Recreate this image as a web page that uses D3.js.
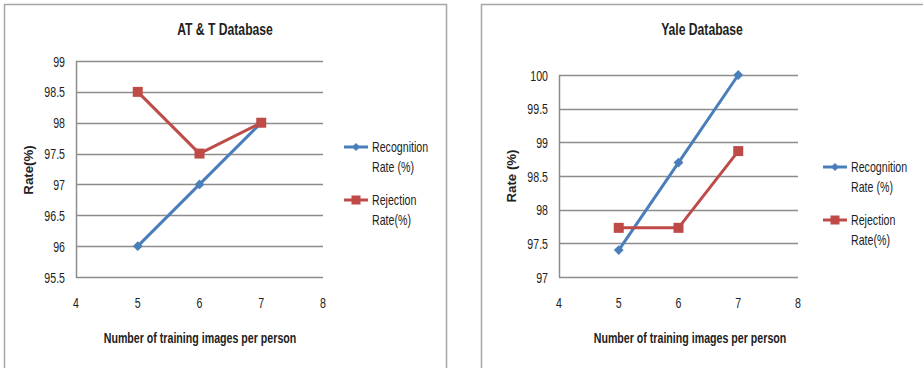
<!DOCTYPE html>
<html>
<head>
<meta charset="utf-8">
<script src="https://cdn.jsdelivr.net/npm/d3@7"></script>
<style>
  body { margin: 0; background: #fff; }
  text { font-family: "Liberation Sans", Arial, sans-serif; fill: #222; }
</style>
</head>
<body>
<div id="chart"></div>
<script>
// ---------- data ----------
const xValues = [5, 6, 7];
const xTicks = [4, 5, 6, 7, 8];

const attRecognition = [96, 97, 98];
const attRejection = [98.5, 97.5, 98];
const attTicks = [95.5, 96, 96.5, 97, 97.5, 98, 98.5, 99];

const yaleRecognition = [97.4, 98.7, 100];
const yaleRejection = [97.73, 97.73, 98.87];
const yaleTicks = [97, 97.5, 98, 98.5, 99, 99.5, 100];

const seriesNames = [["Recognition", "Rate (%)"], ["Rejection", "Rate(%)"]];

// ---------- layout ----------
const blue = "#4a7ebb", red = "#be4b48";
const squeeze = 0.76; // the original text is narrow (Calibri-like)

const svg = d3.select("#chart").append("svg")
  .attr("width", 923).attr("height", 368);

// narrow text: place at (x,y), squeeze horizontally, optional rotation
function label(parent, x, y, str, size, opts = {}) {
  const rot = opts.rotate ? ` rotate(${opts.rotate})` : "";
  const sx = opts.sx || squeeze;
  return parent.append("text")
    .attr("transform", `translate(${x},${y})${rot} scale(${sx},1)`)
    .attr("text-anchor", opts.anchor || "start")
    .attr("font-size", size)
    .attr("font-weight", opts.bold ? "bold" : null)
    .text(str);
}

// outer frames
svg.append("path").attr("d", "M4.5,369 V4.5 H446.5 V369")
  .attr("fill", "none").attr("stroke", "#a6a6a6").attr("stroke-width", 1.5);
svg.append("path").attr("d", "M481.5,369 V4.5 H924")
  .attr("fill", "none").attr("stroke", "#a6a6a6").attr("stroke-width", 1.5);

function drawChart(cfg) {
  const g = svg.append("g");
  const x = d3.scaleLinear().domain([4, 8]).range([cfg.left, cfg.right]);
  const y = d3.scaleLinear().domain(cfg.yDomain).range([cfg.bottom, cfg.top]);

  // gridlines
  g.selectAll(".grid").data(cfg.yTicks).join("line")
    .attr("x1", cfg.left).attr("x2", cfg.right)
    .attr("y1", d => Math.round(y(d)) + 0.5).attr("y2", d => Math.round(y(d)) + 0.5)
    .attr("stroke", "#8c8c8c").attr("stroke-width", 1.5);

  // vertical axis line
  g.append("line")
    .attr("x1", cfg.left + 0.5).attr("x2", cfg.left + 0.5)
    .attr("y1", cfg.top).attr("y2", cfg.bottom + 1)
    .attr("stroke", "#8c8c8c").attr("stroke-width", 1.5);

  // y labels
  cfg.yTicks.forEach(d => label(g, cfg.left - 11, y(d) + 5.5, d, 14, {anchor: "end"}));

  // x labels
  xTicks.forEach(d => label(g, x(d), 308, d, 14, {anchor: "middle"}));

  // titles
  label(g, cfg.titleX, 35, cfg.title, 16, {anchor: "middle", bold: true});
  label(g, cfg.xTitleX, 343, "Number of training images per person", 14, {anchor: "middle", bold: true});
  label(g, cfg.yTitleX, cfg.yTitleY, cfg.yTitle, 13, {anchor: "middle", bold: true, rotate: -90, sx: 1.02});

  const line = d3.line().x((d, i) => x(xValues[i])).y(d => y(d));

  // recognition
  g.append("path").datum(cfg.recognition).attr("d", line)
    .attr("fill", "none").attr("stroke", blue).attr("stroke-width", 3);
  g.selectAll(".dia").data(cfg.recognition).join("path")
    .attr("transform", (d, i) => `translate(${x(xValues[i])},${y(d)}) rotate(45)`)
    .attr("d", d3.symbol().type(d3.symbolSquare).size(48))
    .attr("fill", blue);

  // rejection
  g.append("path").datum(cfg.rejection).attr("d", line)
    .attr("fill", "none").attr("stroke", red).attr("stroke-width", 3);
  g.selectAll(".sq").data(cfg.rejection).join("rect")
    .attr("x", (d, i) => x(xValues[i]) - 5).attr("y", d => y(d) - 5)
    .attr("width", 10).attr("height", 10)
    .attr("fill", red);

  // legend
  const colors = [blue, red];
  seriesNames.forEach((names, i) => {
    const ly = cfg.legendY + i * 53;
    g.append("line").attr("x1", cfg.legendX).attr("x2", cfg.legendX + 24)
      .attr("y1", ly).attr("y2", ly)
      .attr("stroke", colors[i]).attr("stroke-width", 3);
    if (i === 0) {
      g.append("path").attr("transform", `translate(${cfg.legendX + 12},${ly}) rotate(45)`)
        .attr("d", d3.symbol().type(d3.symbolSquare).size(32)).attr("fill", colors[i]);
    } else {
      g.append("rect").attr("x", cfg.legendX + 7.5).attr("y", ly - 4.5)
        .attr("width", 9).attr("height", 9).attr("fill", colors[i]);
    }
    label(g, cfg.legendX + 28, ly + 5, names[0], 14);
    label(g, cfg.legendX + 28, ly + 25, names[1], 14);
  });
}

drawChart({
  left: 76, right: 323, top: 61, bottom: 277,
  yDomain: [95.5, 99], yTicks: attTicks,
  recognition: attRecognition, rejection: attRejection,
  title: "AT & T Database", titleX: 225,
  xTitleX: 200, yTitle: "Rate(%)", yTitleX: 33, yTitleY: 170,
  legendX: 344, legendY: 147
});

drawChart({
  left: 559, right: 798, top: 75, bottom: 277,
  yDomain: [97, 100], yTicks: yaleTicks,
  recognition: yaleRecognition, rejection: yaleRejection,
  title: "Yale Database", titleX: 702,
  xTitleX: 690, yTitle: "Rate (%)", yTitleX: 516, yTitleY: 176,
  legendX: 823, legendY: 167
});
</script>
</body>
</html>
